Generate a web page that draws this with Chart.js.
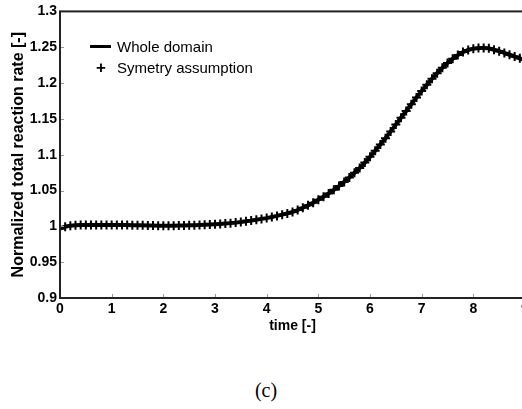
<!DOCTYPE html>
<html>
<head>
<meta charset="utf-8">
<script src="https://cdn.jsdelivr.net/npm/chart.js@4/dist/chart.umd.min.js"></script>
<style>
html,body{margin:0;padding:0;background:#fff;overflow:hidden;width:522px;height:409px;}
#wrap{position:absolute;left:0;top:0;width:540px;height:336px;}
#legend{position:absolute;left:88px;top:36px;font-family:"Liberation Sans",Arial,sans-serif;font-size:15px;color:#000;}
.row{position:relative;height:21px;line-height:21px;padding-left:29px;white-space:nowrap;}
.sample-line{position:absolute;left:2px;top:9px;width:21px;height:3px;background:#000;}
.sample-plus{position:absolute;left:5px;top:0;width:16px;text-align:center;font-weight:bold;font-size:17px;}
#caption{position:absolute;left:0;width:532px;top:379px;text-align:center;font-family:"Liberation Serif","DejaVu Serif",serif;font-size:20px;color:#000;}
</style>
</head>
<body>
<div id="wrap"><canvas id="c" width="540" height="336"></canvas></div>
<div id="legend">
  <div class="row"><span class="sample-line"></span>Whole domain</div>
  <div class="row"><span class="sample-plus">+</span>Symetry assumption</div>
</div>
<div id="caption">(c)</div>
<script>
const timeValues = [0.0,0.1,0.2,0.3,0.4,0.5,0.6,0.7,0.8,0.9,
1.0,1.1,1.2,1.3,1.4,1.5,1.6,1.7,1.8,1.9,
2.0,2.1,2.2,2.3,2.4,2.5,2.6,2.7,2.8,2.9,
3.0,3.1,3.2,3.3,3.4,3.5,3.6,3.7,3.8,3.9,
4.0,4.1,4.2,4.3,4.4,4.5,4.6,4.7,4.8,4.9,
5.0,5.1,5.2,5.3,5.4,5.5,5.6,5.7,5.8,5.9,
6.0,6.1,6.2,6.3,6.4,6.5,6.6,6.7,6.8,6.9,
7.0,7.1,7.2,7.3,7.4,7.5,7.6,7.7,7.8,7.9,
8.0,8.1,8.2,8.3,8.4,8.5,8.6,8.7,8.8,8.9,
9.0,9.1,9.2];
const wholeDomain = [0.997,0.9995,1.001,1.0015,1.002,1.002,1.002,1.002,1.002,1.002,
1.002,1.002,1.002,1.0018,1.0016,1.0015,1.0014,1.0012,1.0011,1.001,
1.001,1.001,1.001,1.0011,1.0012,1.0014,1.0017,1.002,1.0024,1.0027,
1.003,1.0034,1.0039,1.0045,1.0052,1.006,1.007,1.008,1.0092,1.0104,
1.0115,1.013,1.0146,1.0163,1.0181,1.020,1.0228,1.026,1.0293,1.0328,
1.037,1.0414,1.046,1.051,1.0563,1.062,1.0682,1.0747,1.0815,1.089,
1.097,1.1055,1.1142,1.123,1.1325,1.142,1.1515,1.161,1.1705,1.180,
1.189,1.1975,1.206,1.2137,1.2212,1.228,1.2338,1.239,1.2432,1.2462,
1.248,1.2488,1.249,1.2485,1.2465,1.2445,1.242,1.2395,1.237,1.2345,
1.232,1.2298,1.2275];
const symmetryAssumption = [0.997,0.9995,1.001,1.0015,1.002,1.002,1.002,1.002,1.002,1.002,
1.002,1.002,1.002,1.0018,1.0016,1.0015,1.0014,1.0012,1.0011,1.001,
1.001,1.001,1.001,1.0011,1.0012,1.0014,1.0017,1.002,1.0024,1.0027,
1.003,1.0034,1.0039,1.0045,1.0052,1.006,1.007,1.008,1.0092,1.0104,
1.0115,1.013,1.0146,1.0163,1.0181,1.020,1.0228,1.026,1.0293,1.0328,
1.037,1.0414,1.046,1.051,1.0563,1.062,1.0682,1.0747,1.0815,1.089,
1.097,1.1055,1.1142,1.123,1.1325,1.142,1.1515,1.161,1.1705,1.180,
1.189,1.1975,1.206,1.2137,1.2212,1.228,1.2338,1.239,1.2432,1.2462,
1.248,1.2488,1.249,1.2485,1.2465,1.2445,1.242,1.2395,1.237,1.2345,
1.232,1.2298,1.2275];
const xTicks = [0,1,2,3,4,5,6,7,8,9];
const yTicks = [0.9,0.95,1,1.05,1.1,1.15,1.2,1.25,1.3];
const yTickLabels = ["0.9","0.95","1","1.05","1.1","1.15","1.2","1.25","1.3"];

const toXY = (xs, ys) => xs.map((x, i) => ({x: x, y: ys[i]}));

const frameAndTicks = {
  id: 'frameAndTicks',
  afterDatasetsDraw(chart) {
    const {ctx, chartArea: a, scales} = chart;
    ctx.save();
    ctx.strokeStyle = '#999';
    ctx.lineWidth = 1;
    scales.x.ticks.forEach(t => {
      const px = Math.round(scales.x.getPixelForValue(t.value)) + 0.5;
      ctx.beginPath(); ctx.moveTo(px, a.bottom); ctx.lineTo(px, a.bottom - 4); ctx.stroke();
    });
    scales.y.ticks.forEach(t => {
      const py = Math.round(scales.y.getPixelForValue(t.value)) + 0.5;
      ctx.beginPath(); ctx.moveTo(a.left, py); ctx.lineTo(a.left + 4, py); ctx.stroke();
    });
    ctx.strokeStyle = '#222';
    ctx.lineWidth = 2;
    ctx.strokeRect(a.left, a.top, a.right - a.left, a.bottom - a.top);
    ctx.restore();
  }
};

const tickFont = {family: '"Liberation Sans", Arial, sans-serif', size: 14, weight: 'bold'};

new Chart(document.getElementById('c'), {
  type: 'line',
  data: {
    datasets: [
      {
        label: 'Whole domain',
        data: toXY(timeValues, wholeDomain),
        borderColor: '#000',
        borderWidth: 4,
        pointRadius: 0,
        fill: false,
        tension: 0
      },
      {
        label: 'Symetry assumption',
        data: toXY(timeValues, symmetryAssumption),
        showLine: false,
        pointStyle: 'cross',
        pointRadius: 4.5,
        pointBorderWidth: 2,
        pointBorderColor: '#000',
        pointBackgroundColor: '#000'
      }
    ]
  },
  options: {
    responsive: false,
    animation: false,
    layout: {padding: {top: 10, right: 15, left: 0, bottom: 0}},
    plugins: {legend: {display: false}, tooltip: {enabled: false}},
    scales: {
      x: {
        type: 'linear',
        min: 0, max: 9,
        afterBuildTicks: s => { s.ticks = xTicks.map(v => ({value: v})); },
        ticks: {color: '#000', font: tickFont, padding: 3, maxRotation: 0,
                callback: v => String(v)},
        grid: {display: false, drawTicks: false},
        border: {display: false},
        title: {display: true, text: 'time [-]', color: '#000',
                font: {family: '"Liberation Sans", Arial, sans-serif', size: 14, weight: 'bold'},
                padding: {top: 0, bottom: 1}},
        afterFit: s => { s.height = 38; }
      },
      y: {
        type: 'linear',
        min: 0.9, max: 1.3,
        afterBuildTicks: s => { s.ticks = yTicks.map(v => ({value: v})); },
        ticks: {color: '#000', font: tickFont, padding: 3,
                callback: (v) => yTickLabels[yTicks.findIndex(t => Math.abs(t - v) < 1e-9)]},
        grid: {display: false, drawTicks: false},
        border: {display: false},
        title: {display: true, text: 'Normalized total reaction rate [-]', color: '#000',
                font: {family: '"Liberation Sans", Arial, sans-serif', size: 16, weight: 'bold'},
                padding: {top: 9, bottom: 0}},
        afterFit: s => { s.width = 60; }
      }
    }
  },
  plugins: [frameAndTicks]
});
</script>
</body>
</html>
